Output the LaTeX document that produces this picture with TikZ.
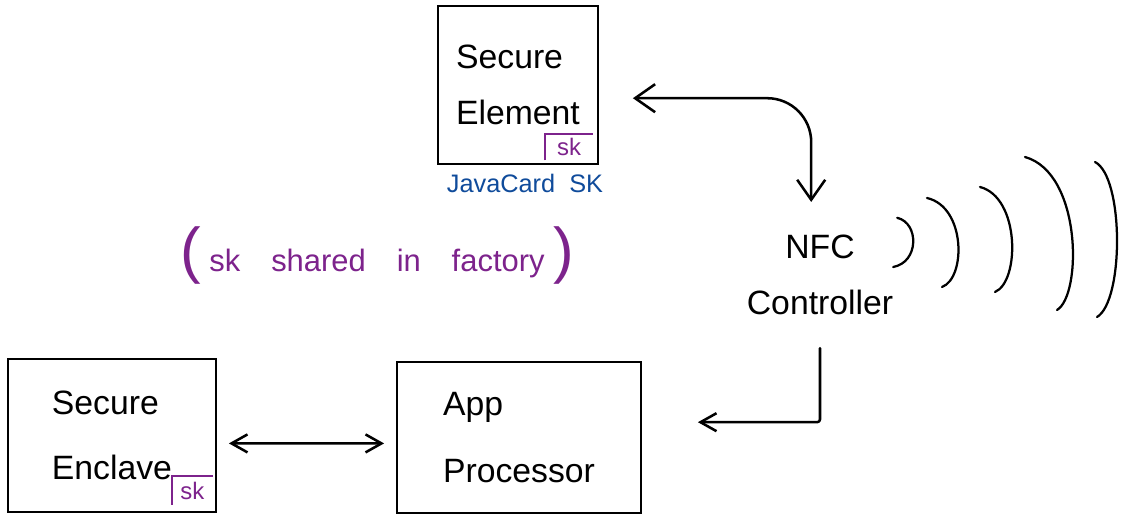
\documentclass[tikz,border=0pt]{standalone}
\usepackage{fontspec}
\setmainfont{Liberation Sans}
\usetikzlibrary{arrows.meta,positioning}

\begin{document}
\begin{tikzpicture}[
  font=\fontsize{24}{40}\selectfont,
  box/.style={draw,line width=1.3pt,align=left,inner sep=0pt},
  tag/.style={text=sk,font=\fontsize{17}{17}\selectfont,inner sep=0pt},
  link/.style={line width=1.8pt,line cap=round,line join=round},
  >={Straight Barb[length=5mm,width=7mm]},
  tiny/.style={>={Straight Barb[length=4mm,width=4.5mm]}},
  wave/.style={line width=1.6pt,line cap=round}]

  \definecolor{sk}{RGB}{125,35,140}
  \definecolor{jc}{RGB}{15,75,155}

  \fill[white] (0,0) rectangle (28.3,12.925);

  % ---- chips ----
  \node[box,minimum width=4cm,minimum height=3.95cm] (se) at (12.95,10.8)
    {Secure\\Element};
  \node[box,minimum width=5.2cm,minimum height=3.83cm] (enc) at (2.8,2.04)
    {Secure\\[6pt]Enclave};
  \node[box,minimum width=6.1cm,minimum height=3.78cm] (app) at (12.975,1.99)
    {App\\[8pt]Processor};
  \node[align=center] (nfc) at (20.5,6.05) {NFC\\Controller};

  % ---- key tags ----
  \node[tag,minimum width=1.2cm,minimum height=0.65cm] (skse) at (14.225,9.25) {sk};
  \draw[sk,line width=1.3pt] (skse.south west) |- (skse.north east);
  \node[tag,minimum width=1.02cm,minimum height=0.7cm] (skenc) at (4.81,0.66) {sk};
  \draw[sk,line width=1.3pt] (skenc.south west) |- (skenc.north east);

  \node[text=jc,font=\fontsize{18}{18}\selectfont] (jcard) at (13.125,8.35)
    {JavaCard\ \ SK};
  \node[text=sk,font=\fontsize{22}{22}\selectfont] (shared) at (9.425,6.55)
    {{\fontsize{44}{44}\selectfont(}\ sk\quad shared\quad in\quad factory\ {\fontsize{44}{44}\selectfont)}};

  % ---- links ----
  \draw[link,<->,shorten <=0.85cm,shorten >=0.7cm,rounded corners=1.1cm]
    ([yshift=-0.33cm]se.east) -| ([xshift=-0.22cm]nfc.north);
  \draw[link,tiny,->,shorten <=0.7cm,shorten >=1.4cm,rounded corners=2pt]
    (nfc.south) |- ([yshift=0.38cm]app.east);
  \draw[link,tiny,<->,shorten <=0.3cm,shorten >=0.3cm]
    ([yshift=-0.2cm]enc.east) -- ([yshift=-0.15cm]app.west);

  % ---- radio waves ----
  \draw[wave] (22.43,7.48) .. controls (22.98,7.35) and (22.98,6.37) .. (22.33,6.25);
  \draw[wave] (23.175,7.975) .. controls (24.15,7.75) and (24.15,5.97) .. (23.55,5.75);
  \draw[wave] (24.5,8.25) .. controls (25.5,7.99) and (25.5,5.89) .. (24.875,5.625);
  \draw[wave] (25.625,9.0) .. controls (27.05,8.6) and (27.05,5.55) .. (26.425,5.175);
  \draw[wave] (27.375,8.875) .. controls (28.1,8.5) and (28.1,5.4) .. (27.425,5.0);
\end{tikzpicture}
\end{document}
